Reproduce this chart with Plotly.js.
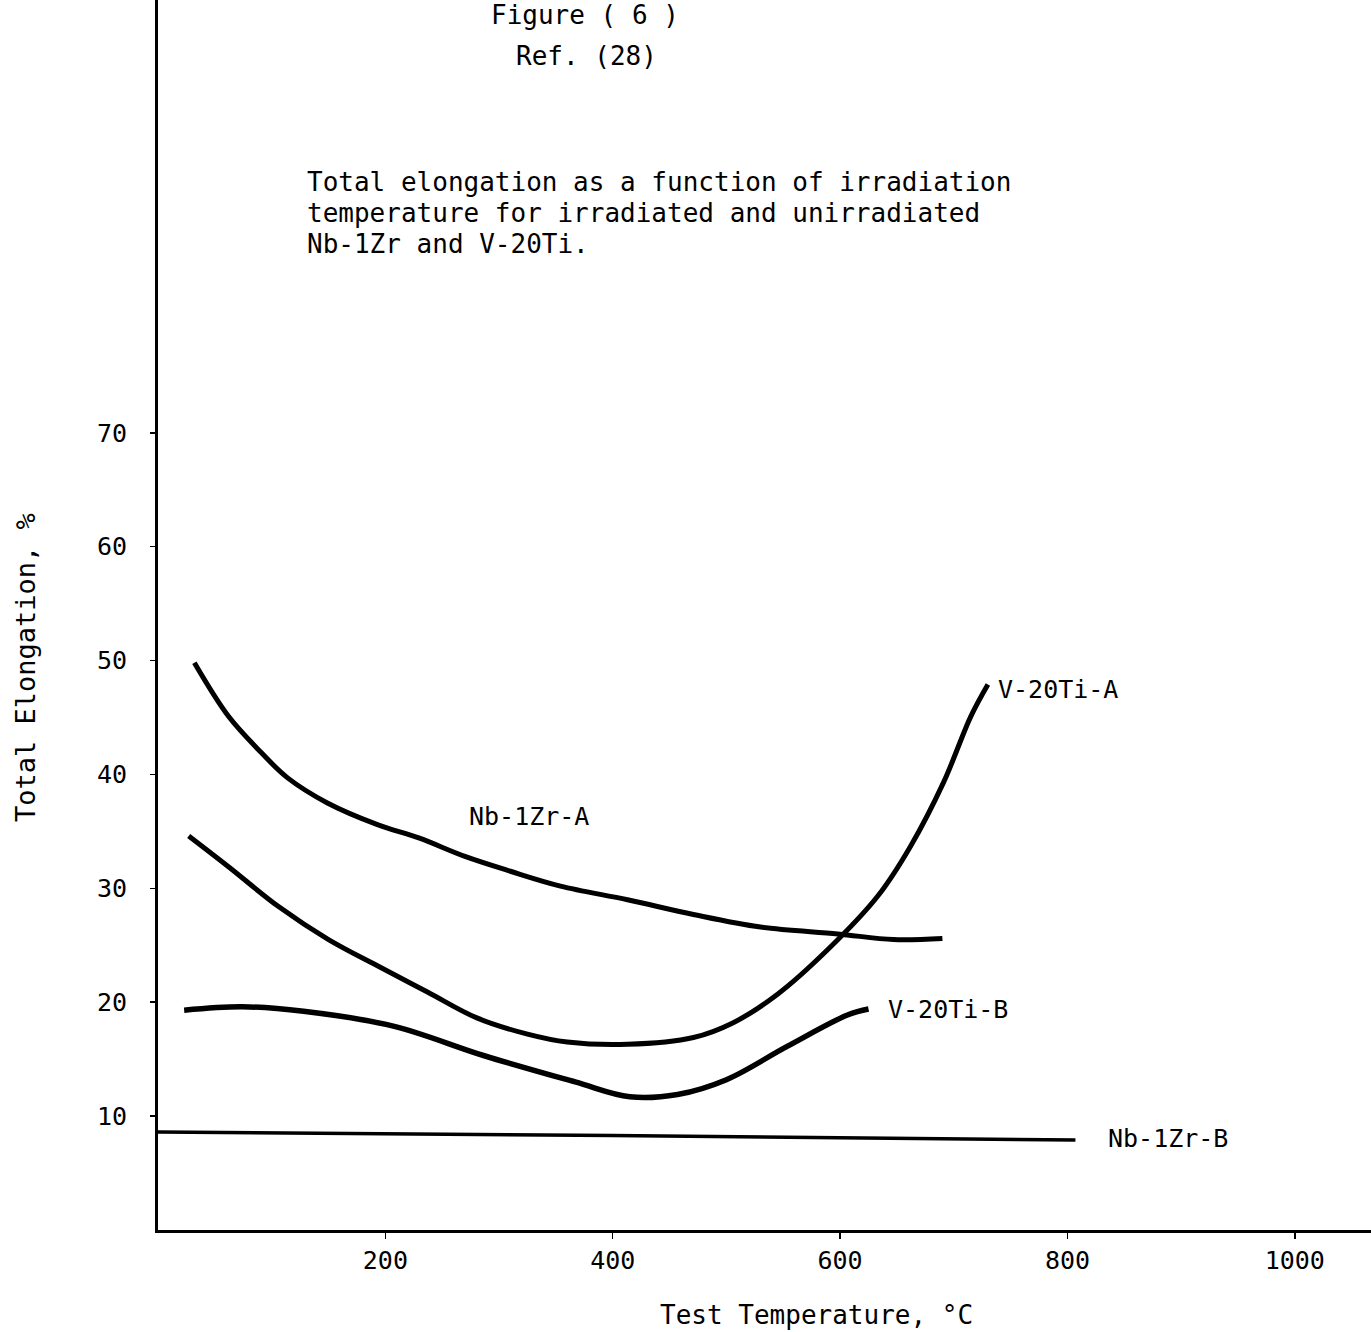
<!DOCTYPE html>
<html>
<head>
<meta charset="utf-8">
<script src="https://cdn.plot.ly/plotly-3.0.1.min.js"></script>
<style>html,body{margin:0;padding:0;background:#fff;}#chart{width:1371px;height:1332px;}</style>
</head>
<body>
<div id="chart"></div>
<script>
// Test temperature (°C) and total elongation (%)
const nbA_x = [32, 62, 91, 114, 149, 193, 230, 270, 310, 354, 413, 471, 530, 598, 647, 690];
const nbA_y = [49.8, 45.1, 41.9, 39.7, 37.5, 35.6, 34.4, 32.8, 31.5, 30.2, 29.0, 27.7, 26.6, 26.0, 25.5, 25.6];

const vA_x = [27, 62, 106, 150, 193, 237, 281, 325, 360, 413, 471, 506, 545, 589, 633, 662, 691, 715, 730];
const vA_y = [34.6, 31.9, 28.4, 25.5, 23.2, 20.9, 18.6, 17.2, 16.5, 16.3, 16.9, 18.2, 20.7, 24.6, 29.3, 33.7, 39.3, 45.1, 47.9];

const vB_x = [23, 74, 128, 207, 287, 367, 415, 457, 500, 553, 607, 625];
const vB_y = [19.3, 19.6, 19.2, 17.9, 15.3, 13.0, 11.7, 11.9, 13.2, 16.1, 18.9, 19.4];

const nbB_x = [0, 400, 807];
const nbB_y = [8.6, 8.3, 7.9];

const xTicks = [200, 400, 600, 800, 1000];
const yTicks = [10, 20, 30, 40, 50, 60, 70];

const curveLabels = ["Nb-1Zr-A", "V-20Ti-A", "V-20Ti-B", "Nb-1Zr-B"];
const labelX = [272, 737, 640, 834];
const labelY = [36.3, 47.5, 19.4, 8.0];

const descLines = [
  "Total elongation as a function of irradiation",
  "temperature for irradiated and unirradiated",
  "Nb-1Zr and V-20Ti."
];

const FONT = "DejaVu Sans Mono, monospace";
// pixel helpers for placing free text (plot area: x 158..1371, y 0..1230)
const px2paper = p => (p - 158) / 1213;
const py2paper = p => (1230 - p) / 1230;

function curve(x, y, w) {
  return {x: x, y: y, mode: "lines", type: "scatter",
          line: {color: "#000", width: w, shape: "spline", smoothing: 1},
          hoverinfo: "skip", showlegend: false};
}

const traces = [
  curve(nbA_x, nbA_y, 5),
  curve(vA_x, vA_y, 5),
  curve(vB_x, vB_y, 5.5),
  curve(nbB_x, nbB_y, 3.5)
];

const annotations = curveLabels.map((t, i) => ({
  x: labelX[i], y: labelY[i], xref: "x", yref: "y", text: t, showarrow: false,
  xanchor: "left", yanchor: "middle", font: {family: FONT, size: 25, color: "#000"}
}));

const descY = [182, 213, 244];
descLines.forEach((t, i) => annotations.push({
  x: px2paper(305), y: py2paper(descY[i]), xref: "paper", yref: "paper", text: t,
  showarrow: false, xanchor: "left", yanchor: "middle",
  font: {family: FONT, size: 26, color: "#000"}
}));

annotations.push({
  x: px2paper(585), y: py2paper(15), xref: "paper", yref: "paper", text: "Figure ( 6 )",
  showarrow: false, xanchor: "center", yanchor: "middle",
  font: {family: FONT, size: 26, color: "#000"}
});
annotations.push({
  x: px2paper(586), y: py2paper(56), xref: "paper", yref: "paper", text: "Ref. (28)",
  showarrow: false, xanchor: "center", yanchor: "middle",
  font: {family: FONT, size: 26, color: "#000"}
});
// axis titles, placed where the reference has them
annotations.push({
  x: px2paper(816), y: py2paper(1315), xref: "paper", yref: "paper", text: "Test Temperature, °C",
  showarrow: false, xanchor: "center", yanchor: "middle",
  font: {family: FONT, size: 26, color: "#000"}
});
annotations.push({
  x: px2paper(25), y: py2paper(668), xref: "paper", yref: "paper", text: "Total Elongation, %",
  showarrow: false, xanchor: "center", yanchor: "middle", textangle: -90,
  font: {family: FONT, size: 27, color: "#000"}
});

const layout = {
  width: 1371, height: 1332,
  margin: {l: 158, r: 0, t: 0, b: 102},
  paper_bgcolor: "#fff", plot_bgcolor: "#fff",
  showlegend: false,
  font: {family: FONT, color: "#000"},
  xaxis: {
    range: [0, 1067], tickvals: xTicks, ticktext: xTicks.map(String),
    showgrid: false, zeroline: false, showline: true, linecolor: "#000", linewidth: 3,
    ticks: "outside", ticklen: 6, tickwidth: 1.5, tickcolor: "#000",
    tickfont: {family: FONT, size: 25, color: "#000"}
  },
  yaxis: {
    range: [0, 108], tickvals: yTicks, ticktext: yTicks.map(String),
    showgrid: false, zeroline: false, showline: true, linecolor: "#000", linewidth: 3,
    ticks: "outside", ticklen: 5, tickwidth: 1.5, tickcolor: "#000",
    ticklabelstandoff: 18,
    tickfont: {family: FONT, size: 25, color: "#000"}
  },
  annotations: annotations
};

Plotly.newPlot("chart", traces, layout, {displayModeBar: false, staticPlot: true});
</script>
</body>
</html>
